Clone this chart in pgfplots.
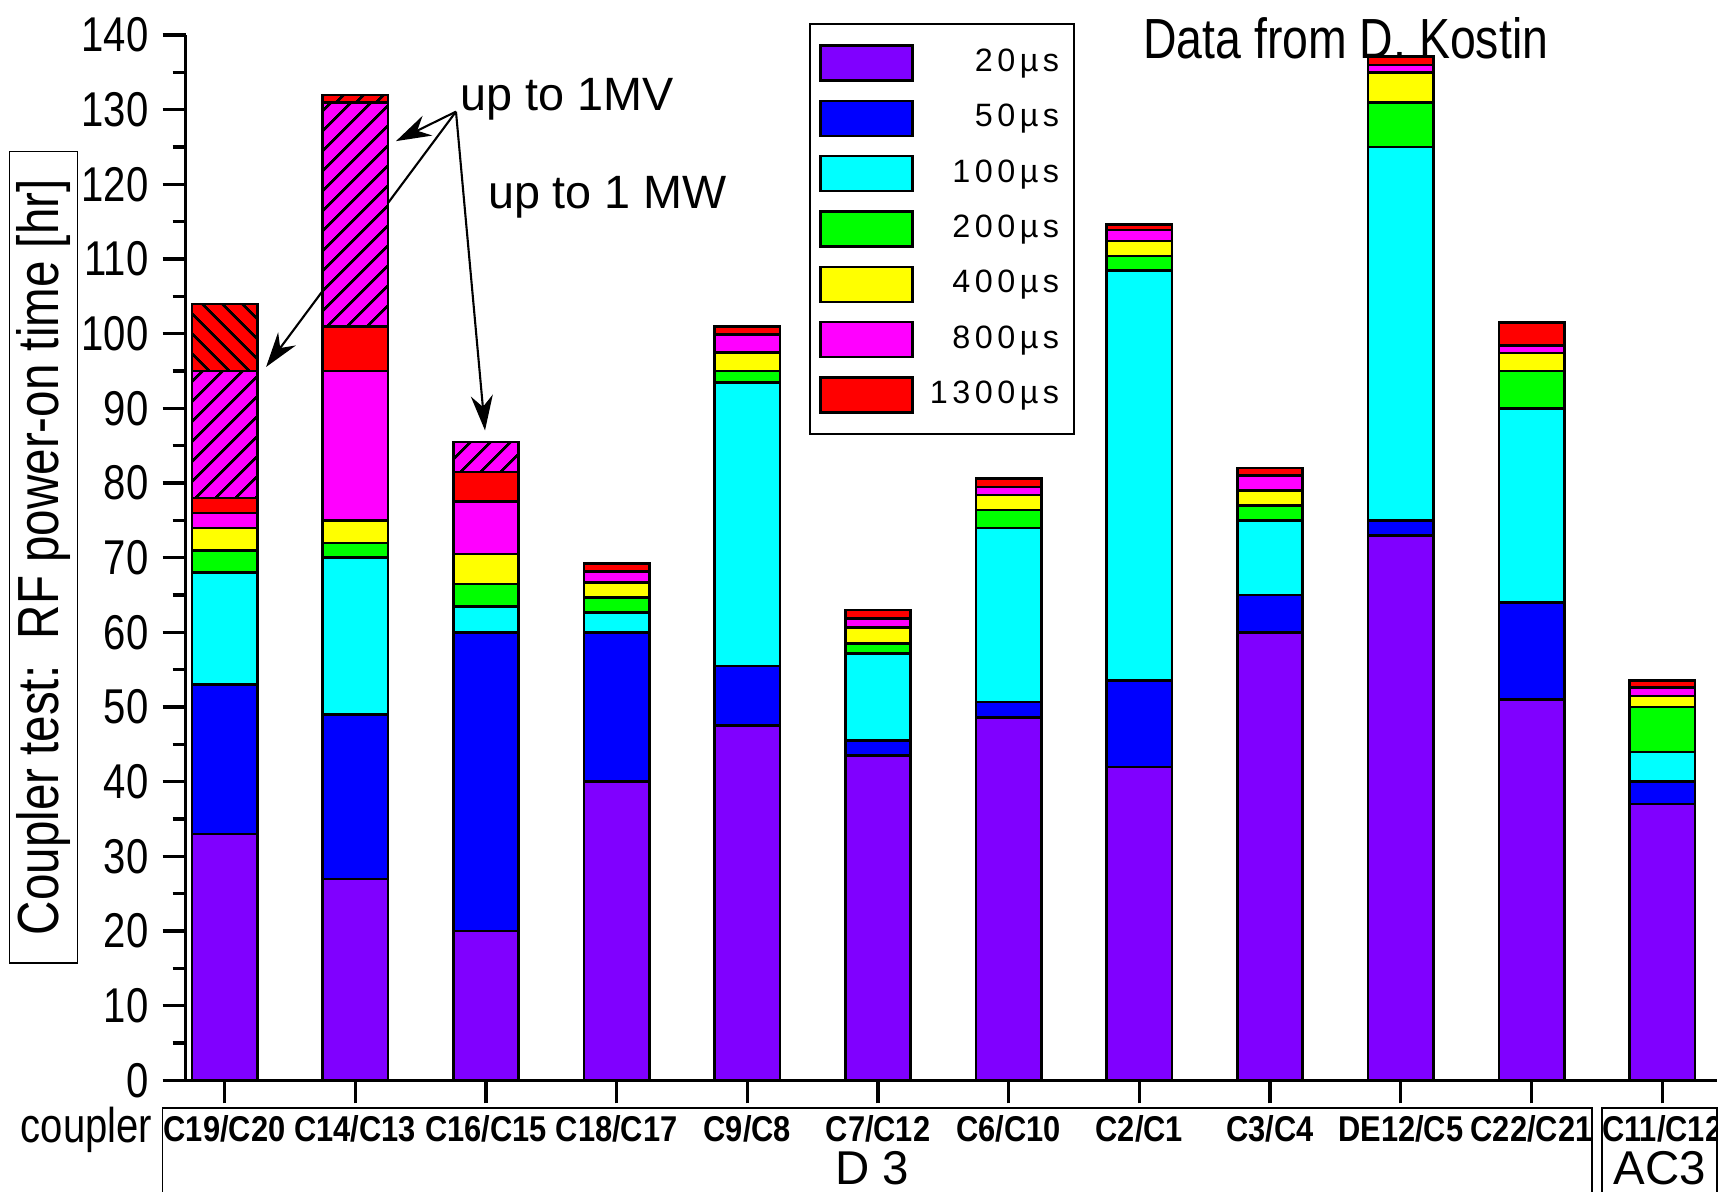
\documentclass[border=0pt]{standalone}
\usepackage{pgfplots}
\pgfplotsset{compat=1.18}
\usepackage{pgfplotstable}
\usepackage{fontspec}
\setmainfont{Liberation Sans}
\newfontfamily\narrow{Liberation Sans}[FakeStretch=0.82]
\newfontfamily\catfont{Liberation Sans}[FakeStretch=0.86]
\newfontfamily\legfont{Liberation Sans}[LetterSpace=14]
\usetikzlibrary{patterns.meta,arrows.meta}

\definecolor{cviolet}{RGB}{128,0,255}
\definecolor{cblue}{RGB}{0,0,255}
\definecolor{ccyan}{RGB}{0,255,255}
\definecolor{cgreen}{RGB}{0,255,0}
\definecolor{cyellow}{RGB}{255,255,0}
\definecolor{cmagenta}{RGB}{255,0,255}
\definecolor{cred}{RGB}{255,0,0}

\pgfplotstableread{
x  s20  s50  s100 s200 s400 s800 s1300 h800 hNW hNE
0  33   20   15   3    3    2    2     17   9   0
1  27   22   21   2    3    20   6     30   0   1
2  20   40   3.5  3    4    7    4     4    0   0
3  40   20   2.7  2    2    1.5  1     0    0   0
4  47.5 8    38   1.5  2.5  2.4  1.1   0    0   0
5  43.5 2    11.7 1.3  2.2  1.2  1.1   0    0   0
6  48.6 2.1  23.3 2.4  2    1.1  1.1   0    0   0
7  42   11.6 54.9 1.9  2    1.5  0.7   0    0   0
8  60   5    10   2    2    2    1     0    0   0
9  73   2    50   6    4    1    1.1   0    0   0
10 51   13   26   5    2.4  1    3.1   0    0   0
11 37   3    4    6    1.5  1.1  1.0   0    0   0
}\data

\pgfplotsset{
  mybar/.style={fill=#1, draw=black, line width=0.75pt,
    legend image code/.code={\draw[fill=#1, draw=black, line width=0.75pt] (0mm,-1.75mm) rectangle (9.2mm,1.75mm);}},
}

\begin{document}
\begin{tikzpicture}
\begin{axis}[
  at={(0,0)}, anchor=south west,
  scale only axis, width=153.1mm, height=104.53mm,
  xmin=-0.297, xmax=11.417, ymin=0, ymax=140,
  axis x line*=bottom, axis y line*=left,
  axis line style={line width=0.95pt, -},
  ybar stacked, bar width=0.5,
  clip=false,
  xtick={0,...,11},
  xticklabels={C19/C20,C14/C13,C16/C15,C18/C17,C9/C8,C7/C12,C6/C10,C2/C1,C3/C4,DE12/C5,C22/C21,C11/C12},
  ytick={0,10,...,140}, minor y tick num=1,
  tick align=outside,
  major tick length=2.3mm, minor tick length=1.3mm,
  every tick/.style={black, line width=0.95pt},
  /pgf/number format/assume math mode=true,
  yticklabel style={font=\narrow\fontsize{13.9}{16}\selectfont, anchor=east, inner sep=0pt, xshift=-1.37mm},
  xticklabel style={font=\catfont\bfseries\fontsize{10.2}{11}\selectfont, anchor=base, inner sep=0pt, yshift=-3.85mm},
  legend style={
    at={(0.4073,1.0113)}, anchor=north west,
    draw=black, line width=0.5pt, fill=white,
    inner xsep=0.9mm, inner ysep=2.0mm,
    row sep=1.77mm,
    font=\legfont\fontsize{9.2}{10}\selectfont,
    nodes={inner sep=0pt},
    /tikz/every odd column/.append style={column sep=1.6mm},
  },
  legend cell align=right,
]
\addplot[mybar=cviolet] table[x=x,y=s20]{\data};
\addplot[mybar=cblue] table[x=x,y=s50]{\data};
\addplot[mybar=ccyan] table[x=x,y=s100]{\data};
\addplot[mybar=cgreen] table[x=x,y=s200]{\data};
\addplot[mybar=cyellow] table[x=x,y=s400]{\data};
\addplot[mybar=cmagenta] table[x=x,y=s800]{\data};
\addplot[mybar=cred] table[x=x,y=s1300]{\data};
\addplot[mybar=cmagenta, postaction={pattern={Lines[angle=45,distance=1.4mm,line width=0.8pt]}}] table[x=x,y=h800]{\data};
\addplot[mybar=cred, postaction={pattern={Lines[angle=-45,distance=1.4mm,line width=0.8pt]}}] table[x=x,y=hNW]{\data};
\addplot[mybar=cred, postaction={pattern={Lines[angle=45,distance=1.4mm,line width=0.8pt]}}] table[x=x,y=hNE]{\data};
\legend{20µs\kern0.6mm,50µs\kern0.6mm,100µs\kern0.6mm,200µs\kern0.6mm,400µs\kern0.6mm,800µs\kern0.6mm,1300µs\kern0.6mm}

\draw[line width=0.6pt, -{Stealth[length=3.5mm,width=2.2mm]}] (axis cs:1.771,129.75) -- (axis cs:1.312,125.8);
\draw[line width=0.6pt, -{Stealth[length=3.5mm,width=2.2mm]}] (axis cs:1.771,129.75) -- (axis cs:0.318,95.55);
\draw[line width=0.6pt, -{Stealth[length=3.5mm,width=2.2mm]}] (axis cs:1.771,129.75) -- (axis cs:1.993,87.05);
\node[anchor=base west, inner sep=0pt, font=\fontsize{13.3}{16}\selectfont] at (axis cs:1.802,129.88) {up to 1MV};
\node[anchor=base west, inner sep=0pt, font=\fontsize{13.3}{16}\selectfont] at (axis cs:2.011,116.81) {up to 1 MW};
\node[anchor=base west, inner sep=0pt, font=\narrow\fontsize{16.1}{18}\selectfont] at (axis cs:7.025,136.93) {Data from D. Kostin};
\end{axis}

\draw[line width=0.45pt] (-17.64mm,11.77mm) rectangle (-10.8mm,92.87mm);
\node[rotate=90, inner sep=0pt, font=\narrow\fontsize{16.5}{18}\selectfont] at (-14.22mm,52.32mm) {Coupler test:\ \ RF power-on time [hr]};
\node[anchor=base east, inner sep=0pt, font=\narrow\fontsize{13.9}{16}\selectfont] at (-3.27mm,-6.23mm) {coupler};
\draw[line width=0.45pt] (-2.34mm,-12mm) -- (-2.34mm,-2.73mm) -- (140.6mm,-2.73mm) -- (140.6mm,-12mm);
\draw[line width=0.45pt] (141.6mm,-12mm) -- (141.6mm,-2.73mm) -- (153.13mm,-2.73mm) -- (153.13mm,-12mm);
\node[anchor=base, inner sep=0pt, font=\fontsize{13.5}{15}\selectfont] at (68.63mm,-10.4mm) {D 3};
\node[anchor=base, inner sep=0pt, font=\fontsize{13.5}{15}\selectfont] at (147.4mm,-10.4mm) {AC3};

\pgfresetboundingbox
\useasboundingbox (-18.57mm,-11.06mm) rectangle (153.23mm,108.04mm);
\end{tikzpicture}
\end{document}
